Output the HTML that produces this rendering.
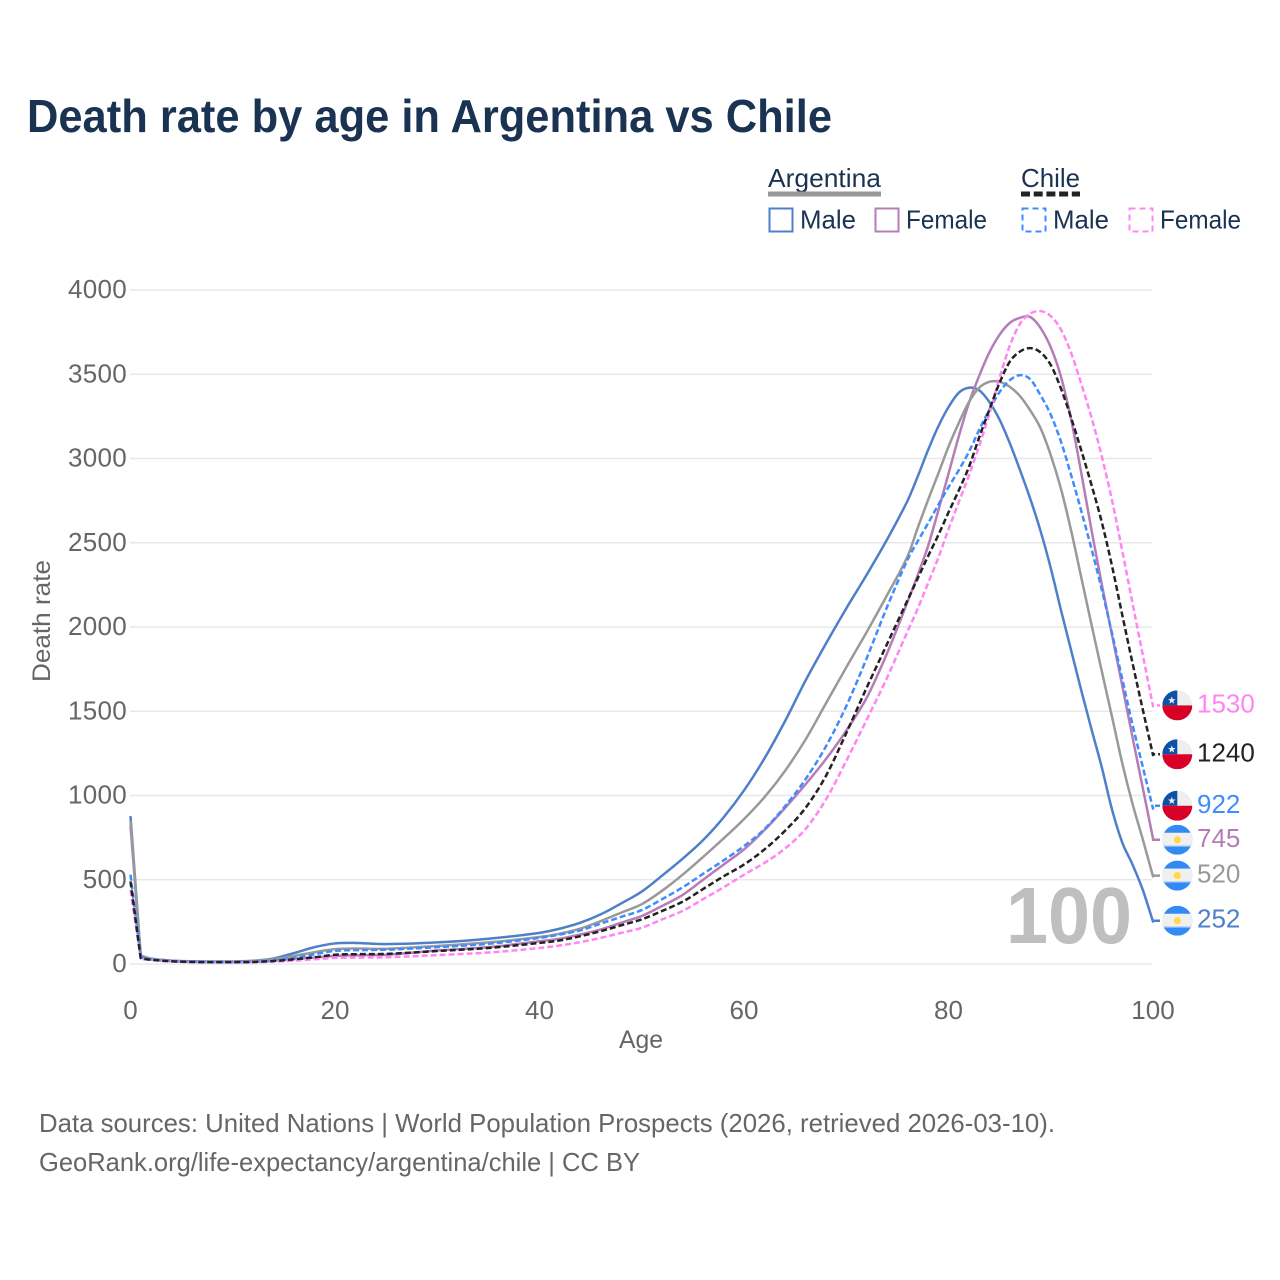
<!DOCTYPE html>
<html lang="en">
<head>
<meta charset="utf-8">
<title>Death rate by age in Argentina vs Chile</title>
<style>
html,body{margin:0;padding:0;background:#fff;}
svg{display:block;font-family:"Liberation Sans",sans-serif;}
</style>
</head>
<body>
<svg id="chart" xmlns="http://www.w3.org/2000/svg" width="1280" height="1280" viewBox="0 0 1280 1280">
  <defs>
    <clipPath id="flag-clip"><circle cx="0" cy="0" r="15"/></clipPath>
    <g id="flag-chile" clip-path="url(#flag-clip)">
      <rect x="-15" y="-15" width="30" height="15" fill="#eeeeee"/>
      <rect x="-15" y="-15" width="15" height="15" fill="#0a52a8"/>
      <rect x="-15" y="0" width="30" height="15" fill="#d80027"/>
      <polygon points="-5.5,-9 -4.5,-6.3 -1.7,-6.3 -3.9,-4.5 -3.1,-1.8 -5.5,-3.4 -7.9,-1.8 -7.1,-4.5 -9.3,-6.3 -6.5,-6.3" fill="#eeeeee"/>
    </g>
    <g id="flag-argentina" clip-path="url(#flag-clip)">
      <rect x="-15" y="-15" width="30" height="30" fill="#338af3"/>
      <rect x="-15" y="-7" width="30" height="13" fill="#f0f0f0"/>
      <rect x="-15" y="6" width="30" height="1" fill="#9cc5f5"/>
      <circle cx="0" cy="0" r="3.6" fill="#ffda44"/>
    </g>
  </defs>

  <rect x="0" y="0" width="1280" height="1280" fill="#ffffff"/>

  <text x="27" y="132" font-size="46" font-weight="700" fill="#1a3352" textLength="805" lengthAdjust="spacingAndGlyphs">Death rate by age in Argentina vs Chile</text>

  <g>
    <text x="768" y="187" font-size="26" fill="#1a3352" textLength="113" lengthAdjust="spacingAndGlyphs">Argentina</text>
    <rect x="768" y="191.5" width="113" height="5" fill="#999999"/>
    <text x="1021" y="187" font-size="26" fill="#1a3352" textLength="59" lengthAdjust="spacingAndGlyphs">Chile</text>
    <line x1="1021" y1="194" x2="1080" y2="194" stroke="#222222" stroke-width="5" stroke-dasharray="9 3.7"/>

    <g>
      <rect x="769.5" y="208.5" width="23" height="23" fill="none" stroke="#4d80c9" stroke-width="2"/>
      <text x="800" y="228.5" font-size="26" fill="#1a3352" textLength="56" lengthAdjust="spacingAndGlyphs">Male</text>
    </g>
    <g>
      <rect x="875.5" y="208.5" width="23" height="23" fill="none" stroke="#b57cb8" stroke-width="2"/>
      <text x="906" y="228.5" font-size="26" fill="#1a3352" textLength="81" lengthAdjust="spacingAndGlyphs">Female</text>
    </g>
    <g>
      <rect x="1022.5" y="208.5" width="23" height="23" fill="none" stroke="#3f8cff" stroke-width="2" stroke-dasharray="6 4"/>
      <text x="1053" y="228.5" font-size="26" fill="#1a3352" textLength="56" lengthAdjust="spacingAndGlyphs">Male</text>
    </g>
    <g>
      <rect x="1129.5" y="208.5" width="23" height="23" fill="none" stroke="#ff85f5" stroke-width="2" stroke-dasharray="6 4"/>
      <text x="1160" y="228.5" font-size="26" fill="#1a3352" textLength="81" lengthAdjust="spacingAndGlyphs">Female</text>
    </g>
  </g>

  <g id="grid"></g>
  <g id="y-ticks"></g>
  <g id="x-ticks"></g>

  <text x="1006" y="943" font-size="80" font-weight="700" fill="#bfbfbf" textLength="126" lengthAdjust="spacingAndGlyphs">100</text>

  <g id="series"></g>
  <g id="end-labels"></g>

  <text transform="translate(50,621) rotate(-90)" text-anchor="middle" font-size="25" fill="#666666" textLength="122" lengthAdjust="spacingAndGlyphs">Death rate</text>
  <text x="641" y="1048" text-anchor="middle" font-size="25" fill="#666666" textLength="44" lengthAdjust="spacingAndGlyphs">Age</text>

  <text x="39" y="1132" font-size="26" fill="#666666" textLength="1016" lengthAdjust="spacingAndGlyphs">Data sources: United Nations | World Population Prospects (2026, retrieved 2026-03-10).</text>
  <text x="39" y="1171" font-size="26" fill="#666666" textLength="601" lengthAdjust="spacingAndGlyphs">GeoRank.org/life-expectancy/argentina/chile | CC BY</text>
</svg>

<script>
var ages = [0,1,2,4,6,8,10,12,14,16,18,20,22,25,30,35,40,42,44,46,48,50,52,54,56,58,60,62,64,66,68,70,72,74,76,77,78,79,80,81,82,83,84,85,86,87,88,89,90,91,92,93,94,95,96,97,98,99,100];
var argentinaMale = [878,50,32,20,16,15,15,19,33,65,100,122,125,118,128,150,185,210,245,295,360,430,525,625,735,870,1030,1220,1440,1680,1900,2110,2310,2520,2750,2895,3050,3190,3305,3390,3420,3405,3335,3230,3090,2930,2760,2570,2350,2100,1860,1620,1390,1165,915,720,590,440,252];
var argentinaFemale = [820,45,30,18,14,12,12,15,22,30,38,48,52,55,80,100,135,150,175,205,245,285,345,410,500,590,680,795,925,1065,1215,1385,1580,1845,2150,2310,2480,2690,2910,3130,3330,3490,3630,3735,3805,3835,3840,3775,3660,3485,3230,2910,2570,2250,1950,1650,1345,1045,745];
var argentinaBoth = [850,48,31,19,15,13,13,17,28,48,70,88,92,90,107,128,160,180,210,255,305,355,435,530,635,745,860,990,1145,1330,1545,1760,1970,2190,2420,2590,2754,2910,3070,3210,3335,3420,3455,3455,3425,3370,3285,3180,3020,2820,2570,2290,2010,1735,1465,1190,950,740,520];
var chileMale = [530,38,27,17,13,11,11,13,20,36,58,78,82,85,100,120,155,175,200,240,280,320,385,455,535,615,700,800,935,1095,1290,1530,1815,2120,2400,2510,2615,2725,2830,2930,3040,3170,3290,3395,3465,3495,3470,3375,3260,3100,2900,2685,2460,2220,1960,1690,1420,1170,922];
var chileFemale = [440,30,24,15,11,10,10,11,14,20,28,36,38,40,53,68,95,110,130,155,185,215,265,315,385,455,530,600,685,800,975,1205,1450,1700,1975,2110,2260,2410,2580,2740,2900,3075,3265,3480,3670,3800,3860,3875,3845,3765,3625,3440,3240,3010,2750,2450,2140,1835,1530];
var chileBoth = [490,35,25,16,12,11,11,12,18,28,40,55,58,60,77,95,125,140,165,195,230,265,315,370,445,520,590,680,790,925,1115,1370,1640,1900,2160,2290,2420,2545,2680,2810,2950,3125,3290,3450,3575,3635,3655,3630,3555,3415,3240,3045,2840,2620,2360,2070,1785,1510,1240];
var yTicks = [0,500,1000,1500,2000,2500,3000,3500,4000];
var xTicks = [0,20,40,60,80,100];

var svgNS = 'http://www.w3.org/2000/svg';
var xScale = function (age) { return 130.5 + age * 10.225; };
var yScale = function (v) { return 964 - v * 0.1685; };

function make(tag, attrs, parent) {
  var el = document.createElementNS(svgNS, tag);
  Object.keys(attrs).forEach(function (k) { el.setAttribute(k, attrs[k]); });
  parent.appendChild(el);
  return el;
}

var gridGroup = document.getElementById('grid');
var yTickGroup = document.getElementById('y-ticks');
var xTickGroup = document.getElementById('x-ticks');
var seriesGroup = document.getElementById('series');
var labelGroup = document.getElementById('end-labels');

yTicks.forEach(function (t) {
  var line = make('line', {x1: 130, x2: 1152, y1: yScale(t), y2: yScale(t), stroke: '#e8e8e8', 'stroke-width': 1.6}, gridGroup);
  
  
  var label = make('text', {x: 127, y: yScale(t) + 8, 'text-anchor': 'end', 'font-size': 26, fill: '#666666', 'letter-spacing': 0.3}, yTickGroup);
  label.textContent = String(t);
  
  
});

xTicks.forEach(function (t) {
  var label = make('text', {x: xScale(t), y: 1019, 'text-anchor': 'middle', 'font-size': 26, fill: '#666666'}, xTickGroup);
  label.textContent = String(t);
  
  
});

var seriesList = [
  {key: 'argentina-male', values: argentinaMale, color: '#4d80c9', dash: '', flag: '#flag-argentina'},
  {key: 'argentina-female', values: argentinaFemale, color: '#b57cb8', dash: '', flag: '#flag-argentina'},
  {key: 'argentina-both', values: argentinaBoth, color: '#999999', dash: '', flag: '#flag-argentina'},
  {key: 'chile-male', values: chileMale, color: '#3f8cff', dash: '6 3', flag: '#flag-chile'},
  {key: 'chile-female', values: chileFemale, color: '#ff85f5', dash: '6 3', flag: '#flag-chile'},
  {key: 'chile-both', values: chileBoth, color: '#222222', dash: '6 3', flag: '#flag-chile'}
];

// End-label layout: spread labels that would collide, as the chart's label placement does.
var minLabelGap = 34;
var placed = seriesList.map(function (s) {
  var last = s.values[s.values.length - 1];
  return {series: s, value: last, y: yScale(last) - 0.8};
}).sort(function (a, b) { return a.y - b.y; });
for (var pass = 0; pass < 4; pass++) {
  for (var i = 1; i < placed.length; i++) {
    var gap = placed[i].y - placed[i - 1].y;
    if (gap < minLabelGap) {
      var shift = (minLabelGap - gap) / 2;
      placed[i - 1].y -= shift;
      placed[i].y += shift;
    }
  }
}
placed.forEach(function (p) { p.series.labelY = p.y; p.series.lastValue = p.value; });

// Straight from birth to age 1, then a smooth curve through the remaining values.
function curvePath(values) {
  var xs = values.map(function (v, i) { return xScale(ages[i]); });
  var ys = values.map(function (v) { return yScale(v); });
  var n = values.length;
  var slope = function (i) {
    var a = Math.max(1, i - 1);
    var b = Math.min(n - 1, i + 1);
    return (ys[b] - ys[a]) / (xs[b] - xs[a]);
  };
  var d = 'M' + xs[0].toFixed(2) + ',' + ys[0].toFixed(2) + ' L' + xs[1].toFixed(2) + ',' + ys[1].toFixed(2);
  for (var i = 1; i < n - 1; i++) {
    var dx = (xs[i + 1] - xs[i]) / 3;
    d += ' C' + (xs[i] + dx).toFixed(2) + ',' + (ys[i] + slope(i) * dx).toFixed(2) +
         ' ' + (xs[i + 1] - dx).toFixed(2) + ',' + (ys[i + 1] - slope(i + 1) * dx).toFixed(2) +
         ' ' + xs[i + 1].toFixed(2) + ',' + ys[i + 1].toFixed(2);
  }
  return d;
}

seriesList.forEach(function (s) {
  var endX = xScale(ages[ages.length - 1]);
  var d = curvePath(s.values) + ' L' + endX.toFixed(2) + ',' + s.labelY.toFixed(2) + ' L' + (endX + 7).toFixed(2) + ',' + s.labelY.toFixed(2);
  var path = make('path', {d: d, fill: 'none', stroke: s.color, 'stroke-width': 2.5, 'stroke-linejoin': 'round'}, seriesGroup);
  if (s.dash) { path.setAttribute('stroke-dasharray', s.dash); }
  
  

  var flag = make('use', {href: s.flag, x: 1177.3, y: s.labelY}, labelGroup);
  
  

  var label = make('text', {x: 1197, y: s.labelY + 7, 'font-size': 26, fill: s.color}, labelGroup);
  label.textContent = String(s.lastValue);
  
  
});
</script>
</body>
</html>
